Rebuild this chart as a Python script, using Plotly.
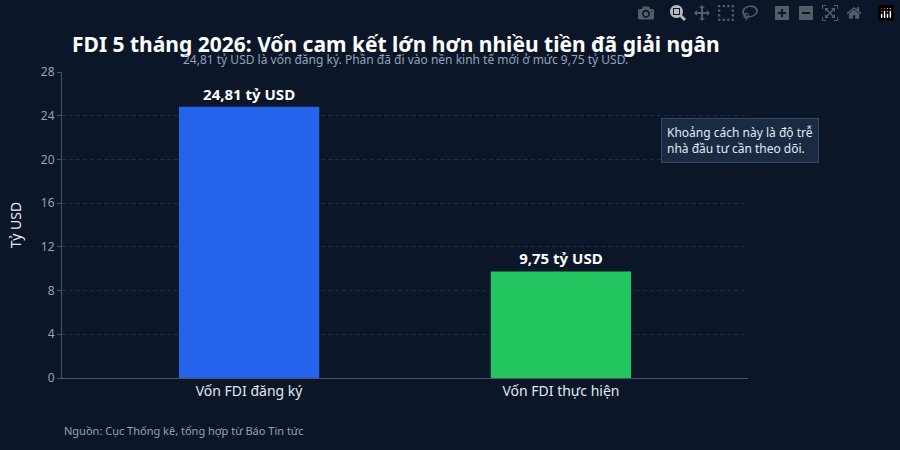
import plotly.graph_objects as go

categories = ["Vốn FDI đăng ký", "Vốn FDI thực hiện"]
values = [24.81, 9.75]
labels = ["24,81 tỷ USD", "9,75 tỷ USD"]
colors = ["#2563eb", "#22c55e"]
tick_vals = [0, 4, 8, 12, 16, 20, 24, 28]

fig = go.Figure(go.Bar(
    x=categories, y=values, marker=dict(color=colors, line=dict(width=0)),
    width=0.45, text=labels, textposition="outside", cliponaxis=False,
    textfont=dict(color="#ffffff", size=15, family="Noto Sans"),
    texttemplate="<b>%{text}</b>", showlegend=False,
))
fig.update_layout(
    width=900, height=450,
    paper_bgcolor="#0b1628", plot_bgcolor="#0b1628",
    font=dict(family="Noto Sans", color="#cbd5e1"),
    margin=dict(l=62, r=152, t=72, b=72),
    title=dict(text="<b>FDI 5 tháng 2026: Vốn cam kết lớn hơn nhiều tiền đã giải ngân</b>",
               x=0.08, xanchor="left", y=0.9, yanchor="middle",
               font=dict(size=21, color="#ffffff")),
    xaxis=dict(range=[-0.6, 1.6], showgrid=False, showline=True, linecolor="#475569",
               tickfont=dict(size=14, color="#e2e8f0"), ticks=""),
    yaxis=dict(range=[0, 28], tickvals=tick_vals, showgrid=True, gridcolor="#1f2d44",
               griddash="4px,3px", zeroline=False, showline=True, linecolor="#475569",
               ticks="outside", ticklen=4, tickcolor="#475569",
               tickfont=dict(size=12, color="#94a3b8"),
               title=dict(text="Tỷ USD", font=dict(size=14, color="#e2e8f0"))),
    annotations=[
        dict(text="24,81 tỷ USD là vốn đăng ký. Phần đã đi vào nền kinh tế mới ở mức 9,75 tỷ USD.",
             xref="paper", yref="paper", x=0.5, y=1.04, xanchor="center", yanchor="middle",
             showarrow=False, font=dict(size=12, color="#94a3b8")),
        dict(text="Khoảng cách này là độ trễ<br>nhà đầu tư cần theo dõi.",
             xref="paper", yref="paper", x=0.873, y=0.776, xanchor="left", yanchor="middle",
             showarrow=False, align="left", font=dict(size=12, color="#e2e8f0"),
             bgcolor="#1a2a42", bordercolor="#334766", borderwidth=1, borderpad=5),
        dict(text="Nguồn: Cục Thống kê, tổng hợp từ Báo Tin tức",
             xref="paper", yref="paper", x=0.0, y=-0.17, xanchor="left", yanchor="middle",
             showarrow=False, font=dict(size=11, color="#94a3b8")),
    ],
)
fig.write_html("out.html", post_script="document.body.style.margin='0';document.body.style.background='#0b1628';")
